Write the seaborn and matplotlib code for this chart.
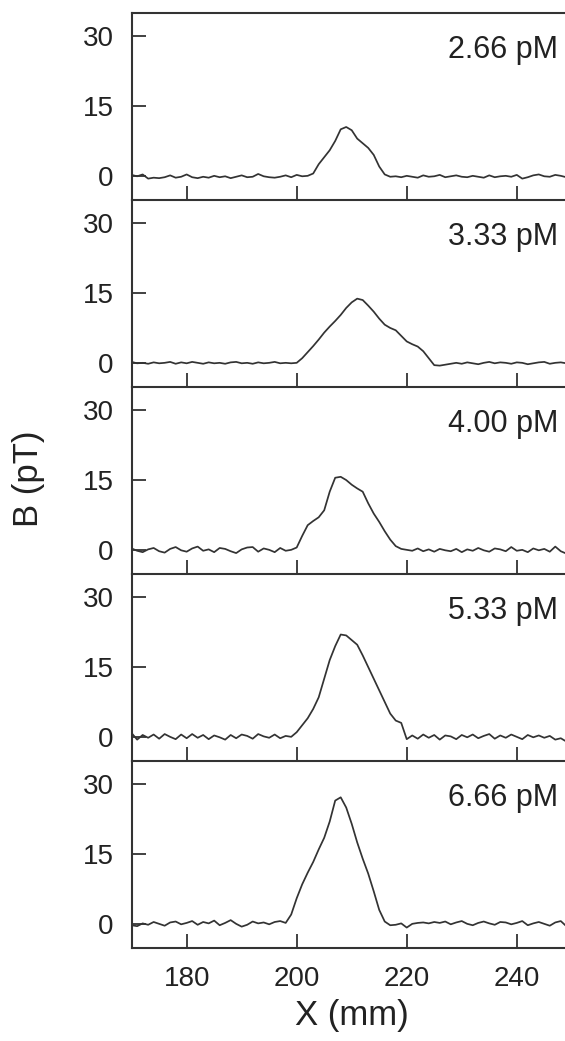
import numpy as np
import pandas as pd
import matplotlib
matplotlib.use("Agg")
import matplotlib.pyplot as plt
import seaborn as sns

# posicoes x (mm), passo de 1 mm
x_mm = np.arange(170, 250)

concentracoes = ["2.66 pM", "3.33 pM", "4.00 pM", "5.33 pM", "6.66 pM"]

b_266 = [0.2, -0.1, 0.3, -0.6, -0.4, -0.5, -0.3, 0.1, -0.4, -0.2, 0.3, -0.3, -0.5, -0.2, -0.4, 0.0,
         -0.3, -0.1, -0.5, -0.2, 0.1, -0.3, -0.2, 0.4, -0.1, -0.3, -0.4, -0.2, 0.1, -0.3, 0.2, -0.1, 0.0,
         0.5, 2.5, 4.0, 5.5, 7.5, 10.0, 10.5, 9.8, 8.0, 7.0, 6.0, 4.5, 2.0, 0.3,
         -0.2, -0.1, -0.3, 0.0, -0.2, -0.4, 0.1, -0.2, -0.1, 0.2, -0.3, -0.1, 0.1, -0.2, -0.3, 0.0,
         -0.2, -0.4, 0.1, -0.3, -0.1, 0.0, -0.2, 0.2, -0.6, -0.3, 0.1, 0.3, -0.1, -0.2, 0.2, 0.0, -0.3]

b_333 = [0.2, -0.1, 0.0, -0.2, 0.1, -0.1, 0.0, 0.2, -0.2, 0.1, -0.1, 0.2, 0.0, -0.2, 0.1, -0.1,
         0.0, -0.2, 0.1, 0.2, -0.1, 0.0, -0.2, 0.1, -0.1, 0.0, 0.2, -0.1, 0.0, -0.1,
         0.0, 1.0, 2.3, 3.6, 5.0, 6.5, 7.8, 9.0, 10.3, 11.8, 13.0, 13.8, 13.5, 12.3, 11.0, 9.5,
         8.2, 7.5, 7.0, 5.8, 4.6, 4.0, 3.5, 2.5, 1.0, -0.5,
         -0.6, -0.4, -0.2, 0.0, -0.2, 0.1, -0.1, -0.3, 0.0, 0.2, -0.1, 0.1, 0.0, -0.2, 0.1, 0.0,
         -0.3, -0.1, 0.1, 0.2, -0.2, 0.0, 0.1, -0.1]

b_400 = [0.3, -0.2, -0.5, 0.1, 0.4, -0.3, -0.6, 0.2, 0.6, -0.1, -0.4, 0.3, 0.7, -0.2, 0.1, -0.5,
         0.4, 0.2, -0.3, -0.7, 0.1, 0.5, 0.6, -0.4, 0.3, 0.0, -0.5, 0.4, -0.2,
         0.0, 0.5, 3.0, 5.3, 6.2, 7.0, 8.5, 12.5, 15.5, 15.7, 15.0, 14.0, 13.2, 12.5, 10.0, 7.8,
         6.0, 4.0, 2.2, 0.8, 0.2, 0.0,
         -0.2, 0.3, -0.3, 0.1, -0.4, 0.2, -0.1, -0.3, 0.2, -0.5, 0.1, -0.2, 0.4, -0.1, -0.4, 0.3,
         0.1, -0.3, 0.6, -0.2, 0.0, -0.5, 0.3, -0.1, 0.2, -0.4, 0.7, -0.3, -0.8]

b_533 = [0.8, -0.6, 0.4, -0.2, 0.5, -0.4, 0.6, 0.0, -0.5, 0.5, -0.3, 0.6, -0.2, 0.4, -0.5, 0.3,
         -0.1, -0.6, 0.4, -0.3, 0.5, 0.2, -0.4, 0.6, 0.1, -0.2, 0.5, -0.3, 0.2,
         0.0, 1.0, 2.5, 4.0, 6.0, 8.5, 12.5, 16.5, 19.5, 22.0, 21.8, 20.8, 19.8, 17.5, 15.0, 12.5,
         10.0, 7.5, 5.0, 3.5, 3.0, -0.5, 0.3,
         -0.4, 0.5, -0.2, 0.4, -0.6, 0.3, 0.1, -0.5, 0.4, -0.1, 0.5, -0.3, 0.2, 0.6, -0.4, 0.3,
         -0.2, 0.5, 0.0, -0.5, 0.4, -0.1, 0.3, -0.2, 0.2, -0.6, -0.3, -1.0]

b_666 = [-0.3, -0.5, 0.1, -0.2, 0.4, 0.0, -0.4, 0.3, 0.5, -0.1, 0.2, 0.6, -0.2, 0.4, 0.1, 0.7,
         -0.3, 0.2, 0.8, 0.0, -0.6, -0.2, 0.5, 0.1, 0.3, -0.1, 0.4, 0.6,
         0.2, 2.0, 5.5, 8.5, 11.0, 13.3, 16.0, 18.5, 22.0, 26.5, 27.2, 25.0, 21.5, 17.5, 14.0, 10.8,
         7.0, 3.0, 0.5, -0.3,
         -0.2, 0.1, -0.8, 0.0, 0.2, 0.3, 0.1, 0.4, 0.2, 0.5, -0.1, 0.3, 0.6, 0.0, -0.3, 0.2,
         0.5, 0.1, -0.2, 0.4, 0.3, -0.1, 0.2, 0.6, -0.3, 0.1, 0.4, 0.0, -0.4, 0.3, 0.6, -0.5]

curvas = [b_266, b_333, b_400, b_533, b_666]

x_ticks = [180, 200, 220, 240]
y_ticks = [0, 15, 30]

sns.set_theme(style="ticks")
plt.rcParams['font.family'] = ['Liberation Sans', 'DejaVu Sans']

cor = '#333333'

fig, axes = plt.subplots(5, 1, figsize=(5.65, 10.41), dpi=100, sharex=True,
                         gridspec_kw={'hspace': 0})
fig.subplots_adjust(left=0.233, right=1.012, top=0.9875, bottom=0.0893)

for i, (ax, conc, b) in enumerate(zip(axes, concentracoes, curvas)):
    ax.patch.set_alpha(0)  # para nao cobrir a linha de baixo do painel de cima
    df = pd.DataFrame({'X': x_mm, 'B': b})
    sns.lineplot(data=df, x='X', y='B', ax=ax, color=cor, linewidth=1.25)
    ax.set_xlim(170, 250)
    ax.set_ylim(-5.2, 35)
    ax.set_xticks(x_ticks)
    ax.set_yticks(y_ticks)
    ax.set_xlabel('')
    ax.set_ylabel('')
    ax.spines['right'].set_visible(False)
    if i > 0:
        ax.spines['top'].set_visible(False)
    for s in ['left', 'bottom', 'top']:
        ax.spines[s].set_color(cor)
        ax.spines[s].set_linewidth(1.5)
    ax.tick_params(axis='both', direction='in', length=10, width=1.3, color=cor,
                   labelsize=20, labelcolor='#222222')
    ax.tick_params(axis='y', pad=13)
    ax.tick_params(axis='x', pad=13)
    ax.text(0.969, 0.76, conc, transform=ax.transAxes, ha='right', va='baseline',
            fontsize=22, color='#222222')

axes[-1].set_xlabel('X (mm)', fontsize=25, color='#222222', labelpad=5)
fig.text(0.05, 0.54, 'B (pT)', rotation=90, ha='center', va='center',
         fontsize=25, color='#222222')

fig.savefig('out.png', dpi=100)
